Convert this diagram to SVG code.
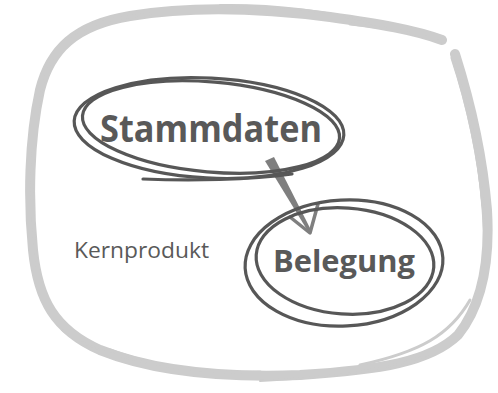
<svg xmlns="http://www.w3.org/2000/svg" width="498" height="393" viewBox="0 0 498 393">
<style>
.frame{fill:none;stroke:#cccccc;stroke-linecap:round;stroke-linejoin:round}
.loop{fill:none;stroke:#575757;stroke-width:3.2;stroke-linecap:round}
.lbl{font-family:"Open Sans","Liberation Sans",sans-serif;fill:#595959}
.conn{stroke:#7f7f7f;fill:none;stroke-linecap:round;stroke-linejoin:round}
</style>
<rect width="498" height="393" fill="#ffffff"/>
<g id="frame">
<path class="frame" stroke-width="10" d="M455,54 C468,95 482,150 487,210 C490,260 482,305 458,335 C430,362 380,370 300,375 C220,378 150,370 100,350 C55,330 38,300 33,250 C28,200 29,140 40,90 C50,50 75,25 130,16 C190,6 260,8 330,17 C380,24 415,30 442,40"/>
<path class="frame" stroke-width="3" d="M452,58 C466,100 478,150 483,205 M470,300 C450,335 420,352 360,365 M260,372 C200,374 150,365 110,350 M40,285 C34,250 31,200 33,150 M60,45 C80,25 110,18 150,14 M350,24 C390,28 420,34 440,42"/>
<path class="frame" stroke-width="2" d="M459,70 C470,110 480,160 484,230 M428,355 C380,372 320,378 260,381 M150,364 C110,354 80,345 62,330 M37,120 C40,90 45,70 55,55 M220,5 C280,4 330,12 370,22"/>
</g>
<g id="connectors">
<polygon points="265,161 274,157 312,232 309,233" fill="#7f7f7f"/>
<polyline class="conn" stroke-width="3.5" points="290,217 310,233 318,204"/>
</g>
<g id="node-stammdaten">
<ellipse class="loop" cx="209" cy="128" rx="135" ry="50" transform="rotate(3 209 128)"/>
<ellipse class="loop" cx="211" cy="127" rx="129" ry="45" transform="rotate(5 211 127)"/>
<path class="loop" d="M143,179 C190,181 250,180 292,174"/>
<text class="lbl" x="100" y="142" font-size="38" font-weight="bold" textLength="222" lengthAdjust="spacingAndGlyphs">Stammdaten</text>
</g>
<g id="node-belegung">
<ellipse class="loop" cx="344" cy="263" rx="99" ry="63" transform="rotate(-3 344 263)"/>
<ellipse class="loop" cx="345" cy="261" rx="89" ry="53" transform="rotate(4 345 261)"/>
<text class="lbl" x="273" y="272" font-size="30" font-weight="bold" textLength="142" lengthAdjust="spacingAndGlyphs">Belegung</text>
</g>
<g id="label-kernprodukt">
<text class="lbl" x="74" y="258" font-size="21" textLength="135" lengthAdjust="spacingAndGlyphs">Kernprodukt</text>
</g>
</svg>
